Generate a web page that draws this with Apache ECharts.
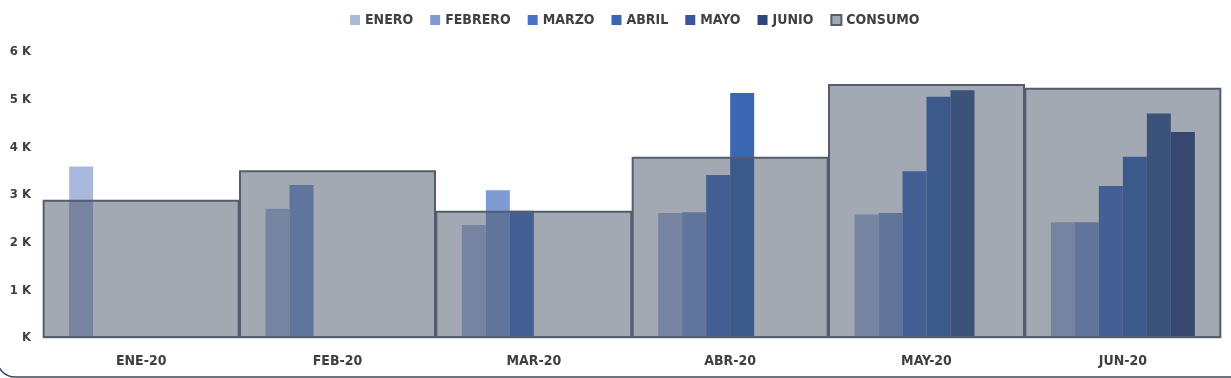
<!DOCTYPE html>
<html>
<head>
<meta charset="utf-8">
<script src="https://cdn.jsdelivr.net/npm/echarts@6/dist/echarts.min.js"></script>
<style>
  html, body { margin: 0; padding: 0; background: #fff; }
  #main { width: 1231px; height: 378px; }
</style>
</head>
<body>
<div id="main"></div>
<script>
// datos
var meses = ['ENE-20', 'FEB-20', 'MAR-20', 'ABR-20', 'MAY-20', 'JUN-20'];
var enero = [3600, 2710, 2370, 2620, 2590, 2430];
var febrero = [null, 3210, 3100, 2640, 2620, 2430];
var marzo = [null, null, 2670, 3420, 3500, 3190];
var abril = [null, null, null, 5140, 5060, 3800];
var mayo = [null, null, null, null, 5200, 4710];
var junio = [null, null, null, null, null, 4320];
var consumo = [2900, 3520, 2670, 3800, 5330, 5250];

var colores = ['#a9b9de', '#7f9bd4', '#4a72c4', '#3b66b3', '#385895', '#2e4679'];
var font = { fontFamily: 'DejaVu Sans Condensed', fontWeight: 'bold', color: '#404040' };

var chart = echarts.init(document.getElementById('main'));

function serieMes(nombre, datos, i) {
  return {
    name: nombre,
    type: 'bar',
    xAxisIndex: 0,
    barWidth: 24,
    barGap: '0%',
    itemStyle: { color: colores[i] },
    data: datos
  };
}

var option = {
  animation: false,
  legend: {
    top: 8,
    left: 345,
    itemWidth: 10,
    itemHeight: 10,
    itemGap: 17,
    icon: 'rect',
    textStyle: Object.assign({ fontSize: 14 }, font),
    data: ['ENERO', 'FEBRERO', 'MARZO', 'ABRIL', 'MAYO', 'JUNIO', 'CONSUMO']
  },
  grid: {
    left: 43,
    right: 10,
    top: 52,
    bottom: 40
  },
  xAxis: [
    {
      type: 'category',
      data: meses,
      axisLine: { lineStyle: { color: '#d9dde3', width: 1 } },
      axisTick: { show: false },
      axisLabel: Object.assign({ fontSize: 14, margin: 16 }, font)
    },
    {
      type: 'category',
      data: meses,
      show: false
    }
  ],
  yAxis: {
    type: 'value',
    min: 0,
    max: 6000,
    interval: 1000,
    splitLine: { show: false },
    axisLine: { show: false },
    axisTick: { show: false },
    axisLabel: Object.assign({
      fontSize: 13,
      margin: 12,
      formatter: function (v) { return v === 0 ? 'K' : (v / 1000) + ' K'; }
    }, font)
  },
  series: [
    serieMes('ENERO', enero, 0),
    serieMes('FEBRERO', febrero, 1),
    serieMes('MARZO', marzo, 2),
    serieMes('ABRIL', abril, 3),
    serieMes('MAYO', mayo, 4),
    serieMes('JUNIO', junio, 5),
    {
      name: 'CONSUMO',
      type: 'bar',
      xAxisIndex: 1,
      barWidth: 197,
      barCategoryGap: '0%',
      z: 5,
      itemStyle: {
        color: 'rgba(62,75,96,0.48)',
        borderColor: '#535d6d',
        borderWidth: 2
      },
      data: consumo
    }
  ],
  graphic: [
    {
      type: 'rect',
      silent: true,
      shape: { x: -3, y: -20, width: 1260, height: 397, r: 18 },
      style: { fill: 'none', stroke: '#3c4656', lineWidth: 1.5 }
    }
  ]
};

chart.setOption(option);
</script>
</body>
</html>
